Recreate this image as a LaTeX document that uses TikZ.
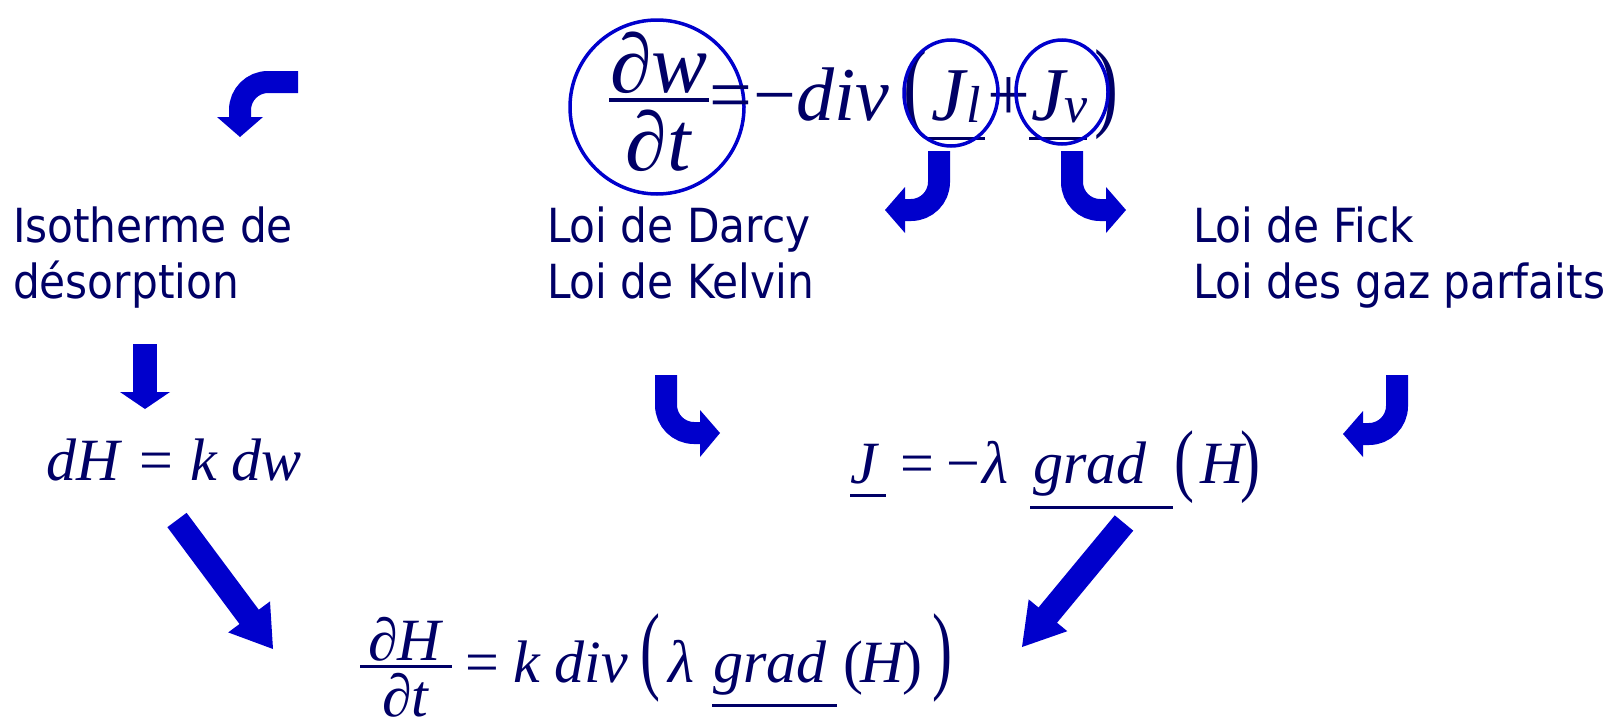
\documentclass[tikz,border=0pt]{standalone}
\usepackage{fontspec}
\setmainfont{DejaVu Sans}[FakeStretch=0.9]
\newfontfamily\tms{Liberation Serif}
\definecolor{navy}{RGB}{0,0,102}
\definecolor{ablue}{RGB}{0,0,204}
\tikzset{
  every node/.style={inner sep=0pt, outer sep=0pt},
  lbl/.style={anchor=base west, text=navy, font=\fontsize{47}{56}\selectfont},
  mi/.style={anchor=base west, text=navy, font=\tms\itshape\fontsize{#1}{#1}\selectfont},
  mr/.style={anchor=base west, text=navy, font=\tms\fontsize{#1}{#1}\selectfont},
  shaft/.style={draw=ablue, line width=#1},
  ahead/.style={fill=ablue},
  ring/.style={draw=ablue, line width=3.5pt},
  uline/.style={draw=navy, line width=3pt},
}
\begin{document}
\begin{tikzpicture}[x=1pt,y=-1pt]
\useasboundingbox (0,0) rectangle (1617,718);
% ---------- labels
\node[lbl] (iso1) at (13,242) {Isotherme de};
\node[lbl] (iso2) at (13,298) {désorption};
\node[lbl] (dar1) at (547,242) {Loi de Darcy};
\node[lbl] (dar2) at (547,298) {Loi de Kelvin};
\node[lbl] (fic1) at (1193,242) {Loi de Fick};
\node[lbl] (fic2) at (1193,298) {Loi des gaz parfaits};
% ---------- top equation
\node[mr=84, anchor=base] (dwn) at (659,92) {∂\textit{w}};
\node[mr=84, anchor=base] (dwd) at (659,170) {∂\textit{t}};
\draw[uline, line width=4pt] (609,100) -- (709,100);
\draw[ring] (657,107) circle[radius=87];
\node[mr=76] (eq1) at (709,120) {=};
\node[mr=76] (mn1) at (753,120) {−};
\node[mi=76] (div1) at (796,120) {div};
\node[mr=72] (lp1) at (903,118) {\scalebox{1}[1.38]{(}};
\node[mi=76] (jl) at (931,120) {J};
\node[mi=52] (jls) at (966,122) {l};
\draw[uline] (927,138) -- (985,138);
\node[mr=76] (pl1) at (987,120) {+};
\node[mi=76] (jv) at (1031,120) {J};
\node[mi=52] (jvs) at (1064,122) {v};
\draw[uline] (1029,138) -- (1087,138);
\node[mr=72] (rp1) at (1094,118) {\scalebox{1}[1.38]{)}};
\draw[ring] (951,93) ellipse[x radius=47, y radius=53];
\draw[ring] (1062,92) ellipse[x radius=46, y radius=52];
% ---------- dH = k dw
\node[mi=60] (dH) at (46,480) {dH};
\node[mr=60] (eq2) at (139,480) {=};
\node[mi=60] (kdw) at (190,480) {k dw};
% ---------- J = -lambda grad(H)
\node[mi=60] (J2) at (850,483) {J};
\draw[uline] (850,495) -- (886,495);
\node[mr=60] (eq3) at (900,483) {=};
\node[mr=60] (mn3) at (946,483) {−};
\node[mi=60] (lam3) at (982,483) {λ};
\node[mi=60] (grad3) at (1033,483) {grad};
\draw[uline] (1030,507) -- (1173,507);
\node[mr=60] (lp3) at (1174,486) {\scalebox{1}[1.34]{(}};
\node[mi=60] (H3) at (1200,483) {H};
\node[mr=60] (rp3) at (1240,486) {\scalebox{1}[1.34]{)}};
% ---------- bottom equation
\node[mr=60, anchor=base] (dHn) at (406,660) {∂\textit{H}};
\node[mr=60, anchor=base] (dtd) at (406,716) {∂\textit{t}};
\draw[uline] (360,666) -- (452,666);
\node[mr=60] (eq4) at (465,682) {=};
\node[mi=60] (kdiv) at (513,682) {k div};
\node[mr=60] (lp4) at (640,681) {\scalebox{1}[1.63]{(}};
\node[mi=60] (lam4) at (668,682) {λ};
\node[mi=60] (grad4) at (713,682) {grad};
\draw[uline] (712,705) -- (837,705);
\node[mr=60] (lp5) at (843,682) {(};
\node[mi=60] (H4) at (860,682) {H};
\node[mr=60] (rp5) at (902,682) {)};
\node[mr=60] (rp4) at (932,681) {\scalebox{1}[1.63]{)}};
% ---------- arrows
\draw[shaft=22pt, rounded corners=28pt] (298,82) -- (240,82) -- (240,119);
\fill[ahead] (217,117) -- (263,117) -- (240,137) -- cycle;
\draw[shaft=22pt, rounded corners=28pt] (939,151) -- (939,210) -- (903,210);
\fill[ahead] (905,187) -- (905,233) -- (885,210) -- cycle;
\draw[shaft=22pt, rounded corners=28pt] (1072,151) -- (1072,210) -- (1108,210);
\fill[ahead] (1106,187) -- (1106,233) -- (1126,210) -- cycle;
\draw[shaft=22pt, rounded corners=28pt] (666,375) -- (666,433) -- (702,433);
\fill[ahead] (700,410) -- (700,457) -- (720,433) -- cycle;
\draw[shaft=22pt, rounded corners=28pt] (1397,375) -- (1397,434) -- (1361,434);
\fill[ahead] (1363,411) -- (1363,457) -- (1343,434) -- cycle;
\draw[shaft=24pt] (145,344) -- (145,393);
\fill[ahead] (120,392) -- (170,392) -- (145,409) -- cycle;
\draw[shaft=24pt] (177,520) -- (250,618);
\fill[ahead] (270,601.4) -- (228.2,632.4) -- (273,649) -- cycle;
\draw[shaft=24pt] (1124,523) -- (1047,616);
\fill[ahead] (1067.3,631.2) -- (1028.7,599.4) -- (1022,647) -- cycle;
\end{tikzpicture}
\end{document}
